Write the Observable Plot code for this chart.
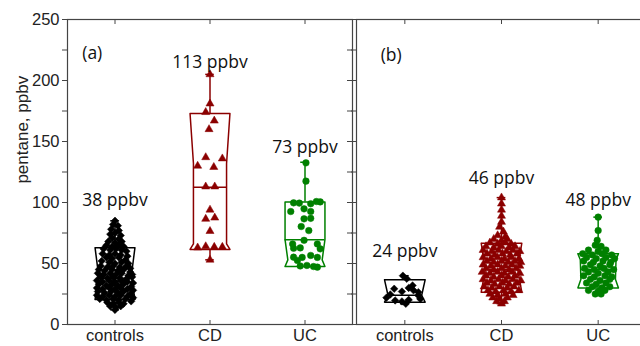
<!DOCTYPE html>
<html><head><meta charset="utf-8">
<script src="https://cdn.jsdelivr.net/npm/d3@7"></script>
<script src="https://cdn.jsdelivr.net/npm/@observablehq/plot@0.6"></script>
<style>
html,body{margin:0;padding:0;background:#fff;overflow:hidden;width:640px;height:346px}
#wrap{position:relative;width:640px;height:346px;overflow:hidden;background:#fff}
#pa{position:absolute;left:0;top:0;width:354px;height:346px}
#pb{position:absolute;left:350px;top:0;width:300px;height:346px}
svg{overflow:visible}
</style></head><body><div id="wrap"><div id="pa"></div><div id="pb"></div></div>
<script>
const categories = ["controls", "CD", "UC"];
const groupColors = ["#000000", "#8b0000", "#008000"];
const yLabelTicks = [0, 50, 100, 150, 200, 250];
const yMinorTicks = [25, 75, 125, 175, 225];
const yAllTicks = [0, 25, 50, 75, 100, 125, 150, 175, 200, 225, 250];
const yTitle = "pentane, ppbv";

// ---- panel (a): [value ppbv, horizontal jitter in category units]
const controlsA = [
[85,0],[82,-0.02],[81,0.03],[78,-0.04],[77,0.04],[75,0],[74,-0.05],[73,0.06],[71,-0.03],[70,0.04],
[68,-0.07],[67,0],[68,0.07],[65,-0.09],[64,-0.03],[65,0.04],[64,0.09],
[62,-0.12],[61,-0.05],[62,0.01],[61,0.07],[60,0.12],[58,-0.13],[57,-0.06],[58,0],[57,0.06],[56,0.13],
[55,-0.09],[54,-0.03],[55,0.04],[53,0.11],[52,-0.14],[51,-0.06],[50,0],[51,0.07],[50,0.14],
[48,-0.15],[47,-0.08],[48,-0.02],[47,0.05],[48,0.12],[46,0.16],[45,-0.17],[44,-0.11],[45,-0.03],[44,0.03],[45,0.09],[43,0.16],
[42,-0.18],[41,-0.12],[42,-0.05],[41,0.01],[42,0.07],[40,0.14],[41,0.18],[39,-0.15],[38,-0.08],[39,-0.02],[38,0.05],[37,0.12],[39,0.18],
[36,-0.19],[35,-0.13],[36,-0.06],[35,0],[36,0.06],[35,0.13],[34,0.19],[33,-0.17],[32,-0.09],[33,-0.03],[32,0.03],[33,0.09],[31,0.17],
[30,-0.19],[29,-0.13],[30,-0.06],[29,0],[30,0.06],[29,0.13],[28,0.19],[27,-0.18],[26,-0.11],[27,-0.04],[26,0.03],[27,0.09],[25,0.16],
[24,-0.19],[23,-0.13],[24,-0.06],[23,0],[24,0.06],[23,0.13],[22,0.19],[21,-0.16],[20,-0.09],[21,-0.02],[20,0.04],[21,0.11],[19,0.17],
[18,-0.08],[17,-0.02],[18,0.04],[17,0.09],[15,-0.05],[14,0.01],[15,0.06],[12,0]
];
const cdA = [
[205,0],[181,0],[174,-0.045],[167,0.045],[160,-0.01],[137,-0.045],[136,0.13],[130,-0.13],[129,0.04],
[113,-0.045],[113,0.05],[94,0],[86.5,-0.045],[87.5,0.05],[76.5,0],[63,-0.13],[64,-0.045],[63.5,0.045],[63.5,0.13],[53,0]
];
const ucA = [
[132.5,0.01],[117.5,0.01],[99.7,-0.12],[99.5,-0.06],[99,0.06],[100.8,0.12],[100.5,0.16],[92.6,-0.15],[94.8,-0.01],[92.6,0.06],
[86.6,-0.01],[87,0.06],[80.3,-0.04],[77,0.04],[66,-0.13],[69,-0.01],[66,0.13],[62.8,-0.05],[62,0.16],[62.5,-0.12],
[55.2,-0.12],[55,-0.03],[56.6,0.06],[55,0.13],[52.5,-0.08],[48.4,0.02],[47.5,0.09],[47,0.13],[48,-0.05]
];
const a_q1 = [20.5, 61.5, 47.5];
const a_median = [38, 112.5, 69.5];
const a_q3 = [63, 173, 100.5];
const a_whiskerLo = [12, 53, 47.5];
const a_whiskerHi = [85, 205, 133];
const a_outlineValues = [[63, 40, 20.5], [173, 132, 66, 61.5], [100.5, 69.5, 53, 47.5]];
const a_outlineWidths = [[1, 0.82, 1], [1, 0.83, 0.83, 1], [1, 1, 0.86, 1]];
const a_labels = ["38 ppbv", "113 ppbv", "73 ppbv"];
const a_labelValues = [101.6, 215, 145];

// ---- panel (b)
const controlsB = [
[40,-0.02],[37.5,0.02],[29.3,-0.11],[27,-0.03],[30,0.04],[28,0.09],[26.5,0.14],[24.6,-0.15],[32,0.08],
[23.8,0.14],[19.7,-0.1],[18.9,-0.03],[20.2,0.04],[17,0.01],[22,-0.19],[21,0.16]
];
const cdB = [
[104,0],[99,0],[94,0],[89,0],[84,0],[80,-0.02],[76,0.02],[73,-0.04],[72,0.04],[70,-0.08],[69,0],[70,0.06],
[67,-0.12],[66,-0.04],[67,0.04],[66,0.1],[64,-0.16],[63,-0.08],[64,0],[63,0.08],[64,0.14],
[61,-0.19],[60,-0.1],[61,-0.03],[60,0.05],[61,0.12],[60,0.19],[58,-0.15],[57,-0.07],[58,0.01],[57,0.09],[58,0.16],
[55,-0.19],[54,-0.11],[55,-0.04],[54,0.03],[55,0.1],[54,0.18],[52,-0.15],[51,-0.08],[52,0],[51,0.07],[52,0.14],[51,0.2],
[49,-0.19],[48,-0.11],[49,-0.04],[48,0.04],[49,0.11],[48,0.19],[46,-0.16],[45,-0.08],[46,0],[45,0.08],[46,0.15],
[43,-0.2],[42,-0.12],[43,-0.04],[42,0.03],[43,0.11],[42,0.19],[40,-0.16],[39,-0.08],[40,0],[39,0.07],[40,0.14],
[37,-0.19],[36,-0.11],[37,-0.03],[36,0.04],[37,0.12],[36,0.2],[34,-0.15],[33,-0.07],[34,0.01],[33,0.08],[34,0.16],
[31,-0.18],[30,-0.1],[31,-0.02],[30,0.06],[31,0.13],[28,-0.14],[27,-0.06],[28,0.02],[27,0.1],[28,0.18],
[25,-0.12],[24,-0.04],[25,0.04],[24,0.12],[22,-0.09],[21,-0.02],[22,0.06],[19,-0.05],[19,0.03],[17,0]
];
const ucB = [
[88,0],[77,0],[69,-0.01],[65,-0.03],[64,0.03],[61,-0.1],[60,0],[61,0.08],
[58,-0.16],[57,-0.06],[58,0.04],[57,0.14],[55,-0.12],[54,-0.02],[55,0.08],[54,0.17],
[52,-0.15],[51,-0.05],[52,0.05],[51,0.13],[49,-0.08],[48,0.02],[49,0.12],[46,-0.14],[45,-0.04],[46,0.06],[45,0.16],
[43,-0.1],[42,0],[43,0.1],[40,-0.15],[39,-0.04],[40,0.07],[39,0.14],[37,-0.08],[36,0.02],[37,0.12],
[34,-0.12],[33,-0.02],[34,0.08],[31,-0.06],[30,0.04],[31,0.12],[28,-0.1],[27,0],[28,0.07],[25,-0.03],[25,0.03]
];
const b_q1 = [18.3, 26.5, 30];
const b_median = [24, 45, 45];
const b_q3 = [36.6, 66.7, 58];
const b_whiskerLo = [17, 17, 25];
const b_whiskerHi = [40, 104, 88];
const b_outlineValues = [[36.6, 24, 18.3], [66.7, 45, 26.5], [58, 53, 37, 30]];
const b_outlineWidths = [[1, 0.83, 1], [1, 0.8, 1], [1, 0.88, 0.85, 1]];
const b_labels = ["24 ppbv", "46 ppbv", "48 ppbv"];
const b_labelValues = [60, 119.4, 101.6];

const symbolsByGroup = ["diamond2", "triangle", "circle"];
const radiusByGroup = [3.4, 3.0, 3.3];

function buildPanel(cfg) {
  const {width, marginLeft, marginRight, points, q1, median, q3, lo, hi, oV, oW, labels, labelValues, tag, tagX, tagValue, showY} = cfg;
  const marginTop = 19, marginBottom = 22, height = 346;
  const frameW = width - marginLeft - marginRight, frameH = height - marginTop - marginBottom;
  const HW = 0.21, CAP = 0.045;
  const outline = [];
  categories.forEach((c, i) => {
    const vs = oV[i], ws = oW[i], pts = [];
    vs.forEach((v, k) => pts.push({x: i - HW * ws[k], y: v}));
    for (let k = vs.length - 1; k >= 0; k--) pts.push({x: i + HW * ws[k], y: vs[k]});
    pts.push(pts[0]);
    pts.forEach(p => outline.push({...p, g: i}));
  });
  const medians = categories.map((c, i) => {
    const w = d3.scaleLinear().domain(oV[i]).range(oW[i])(median[i]);
    return {x1: i - HW * w, x2: i + HW * w, y: median[i], g: i};
  });
  const whisk = [];
  const caps = [];
  categories.forEach((c, i) => {
    if (hi[i] > q3[i]) { whisk.push({x: i, y1: q3[i], y2: hi[i], g: i}); caps.push({x1: i - CAP, x2: i + CAP, y: hi[i], g: i}); }
    if (lo[i] < q1[i]) { whisk.push({x: i, y1: q1[i], y2: lo[i], g: i}); caps.push({x1: i - CAP, x2: i + CAP, y: lo[i], g: i}); }
  });
  const dotMarks = points.map((arr, i) => Plot.dot(arr.map(([v, j]) => ({x: i + j, y: v})), {
    x: "x", y: "y", symbol: () => symbolsByGroup[i], r: radiusByGroup[i],
    fill: groupColors[i], stroke: groupColors[i], strokeWidth: 0.5
  }));
  const color = {type: "ordinal", domain: [0, 1, 2], range: groupColors};
  const axisFont = {fontSize: 16.5, fontFamily: "Liberation Sans, Arial, sans-serif"};
  return Plot.plot({
    width, height, marginLeft, marginRight, marginTop, marginBottom,
    style: {background: "transparent", overflow: "visible", maxWidth: "none", color: "#111"},
    x: {domain: [-0.5, 2.5], axis: null},
    y: {domain: [0, 250], axis: null},
    symbol: {type: "identity"},
    color,
    marks: [
      Plot.line(outline, {x: "x", y: "y", z: "g", stroke: "g", strokeWidth: 1.5, curve: "linear"}),
      Plot.ruleY(medians, {x1: "x1", x2: "x2", y: "y", stroke: "g", strokeWidth: 1.5}),
      Plot.ruleX(whisk, {x: "x", y1: "y1", y2: "y2", stroke: "g", strokeWidth: 1.5}),
      Plot.ruleY(caps, {x1: "x1", x2: "x2", y: "y", stroke: "g", strokeWidth: 1.5}),
      ...dotMarks,
      Plot.frame({stroke: "#444", strokeWidth: 1.2}),
      showY
        ? Plot.axisY(yLabelTicks, {anchor: "left", tickSize: 5, tickPadding: 3, stroke: "#444", fill: "#222", label: null, ...axisFont})
        : Plot.axisY(yAllTicks, {anchor: "left", tickSize: 5, stroke: "#444", fill: "none", label: null}),
      showY ? Plot.axisY(yMinorTicks, {anchor: "left", tickSize: 5, stroke: "#444", fill: "none", label: null}) : null,
      Plot.tickY(yAllTicks, {y: d => d, insetLeft: frameW - 5, stroke: "#444"}),
      Plot.tickX([0, 1, 2], {x: d => d, insetBottom: frameH - 5, stroke: "#444"}),
      Plot.tickX([0, 1, 2], {x: d => d, insetTop: frameH - 4, stroke: "#444"}),
      Plot.axisX([0, 1, 2], {anchor: "bottom", tickSize: 0, tickPadding: 5, tickFormat: i => categories[i], fill: "#222", label: null, fontSize: 16.5, fontFamily: "Liberation Sans, Arial, sans-serif"}),
      Plot.text(labels.map((t, i) => ({x: i, y: labelValues[i], t})), {x: "x", y: "y", text: "t", fontSize: 17.5, fontFamily: "Open Sans", fill: "#111"}),
      Plot.text([tag], {x: () => tagX, y: () => tagValue, text: d => d, textAnchor: "start", fontSize: 17.5, fontFamily: "Open Sans", fill: "#111"}),
      showY ? Plot.text([yTitle], {frameAnchor: "left", y: () => 115.5, text: d => d, rotate: -90, dx: -45, fontSize: 17, fontFamily: "Liberation Sans, Arial, sans-serif", fill: "#222"}) : null
    ]
  });
}

document.getElementById("pa").append(buildPanel({
  width: 354, marginLeft: 67, marginRight: 2,
  points: [controlsA, cdA, ucA], q1: a_q1, median: a_median, q3: a_q3, lo: a_whiskerLo, hi: a_whiskerHi,
  oV: a_outlineValues, oW: a_outlineWidths, labels: a_labels, labelValues: a_labelValues,
  tag: "(a)", tagX: -0.345, tagValue: 222, showY: true
}));
document.getElementById("pb").append(buildPanel({
  width: 300, marginLeft: 6, marginRight: 4,
  points: [controlsB, cdB, ucB], q1: b_q1, median: b_median, q3: b_q3, lo: b_whiskerLo, hi: b_whiskerHi,
  oV: b_outlineValues, oW: b_outlineWidths, labels: b_labels, labelValues: b_labelValues,
  tag: "(b)", tagX: -0.25, tagValue: 220.5, showY: false
}));
</script></body></html>
